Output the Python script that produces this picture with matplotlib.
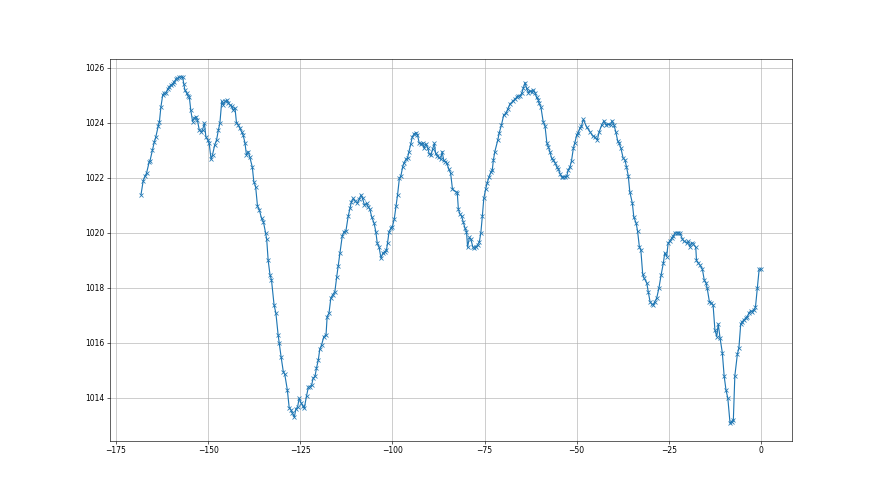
#!/usr/bin/env python3
"""Pressure series over the last week (hours relative to now)."""

import matplotlib

matplotlib.use("Agg")
import matplotlib.pyplot as plt

# hours relative to the last reading
hours = [
    -168.2, -167.6, -167.1, -166.7, -166.0, -165.8, -165.1, -164.6, -164.2, -163.5,
    -163.2, -162.8, -162.3, -161.9, -161.4, -161.0, -160.5, -160.1, -159.6, -159.2,
    -158.7, -158.3, -157.8, -157.4, -156.9, -156.6, -156.3, -155.8, -155.4, -155.1,
    -154.7, -154.2, -153.8, -153.3, -152.9, -152.4, -151.9, -151.5, -151.0, -150.6,
    -150.1, -149.7, -149.2, -148.8, -148.2, -147.7, -147.2, -146.8, -146.3, -145.9,
    -145.4, -145.0, -144.5, -144.1, -143.6, -143.2, -142.7, -142.3, -141.8, -141.4,
    -140.9, -140.5, -140.0, -139.6, -139.1, -138.7, -138.0, -137.6, -137.1,
    -136.6, -136.1, -135.5, -135.0, -134.4, -134.1, -133.7, -133.2, -132.8, -132.1,
    -131.6, -131.0, -130.7, -130.2, -129.6, -129.2, -128.5, -128.0, -127.5, -127.1,
    -126.6, -126.2, -125.7, -125.3, -124.8, -124.3, -123.9, -123.3, -122.8, -122.4,
    -121.9, -121.5, -121.0, -120.6, -120.1, -119.7,
    -119.2, -118.6, -118.0, -117.7, -117.2, -116.7, -116.2, -115.6, -115.1, -114.7,
    -114.2, -113.6, -113.1, -112.6, -112.0, -111.5, -111.1, -110.6, -110.2, -109.5,
    -109.0, -108.5, -108.1, -107.6, -107.0, -106.6, -106.1, -105.6, -105.0, -104.5,
    -104.1, -103.6, -103.1, -102.6, -102.0, -101.6,
    -101.3, -100.9, -100.4, -100.0, -99.5, -99.0, -98.6, -98.1, -97.7, -97.2,
    -96.9, -96.3, -95.9, -95.5, -95.0, -94.6, -94.1, -93.6, -93.2, -92.7,
    -92.3, -91.8, -91.4, -90.9, -90.4, -90.0, -89.5, -89.1, -88.6, -88.3,
    -87.8, -87.4, -86.9, -86.5, -86.1, -85.7, -85.2, -84.7, -84.2, -83.7,
    -82.8, -82.4, -82.1, -81.7, -81.2, -80.8, -80.3, -79.9, -79.6, -79.1,
    -78.7, -78.2, -77.8, -77.3, -76.9, -76.4, -76.0, -75.6, -75.2, -74.7,
    -74.3, -73.8, -73.3, -72.9, -72.6, -72.2,
    -71.4, -71.0, -70.4, -69.8, -69.2, -68.7, -68.1, -67.4,
    -66.8, -66.3, -65.9, -65.4, -64.9, -64.5, -64.0, -63.6, -63.1, -62.7,
    -62.2, -61.8, -61.3, -60.9, -60.4, -60.2, -59.7, -59.1, -58.6, -58.1,
    -57.7, -57.3, -56.8, -56.4, -55.9, -55.4, -55.0, -54.5, -54.1, -53.6,
    -53.2, -52.7, -52.3, -51.8, -51.4, -50.9, -50.5, -50.0, -49.6, -49.1,
    -48.7, -48.2, -47.3,
    -46.4, -45.7, -45.0, -44.4, -43.9, -43.2, -42.6, -42.1, -41.4, -40.8,
    -40.4, -39.9, -39.4, -38.9, -38.5, -38.0, -37.4, -36.9, -36.5, -36.0,
    -35.6, -34.9, -34.5, -33.9, -33.5, -33.0, -32.6, -32.1, -31.7, -31.0,
    -30.6, -30.1, -29.7, -29.2, -28.8, -28.3, -27.7, -27.1, -26.5, -26.1,
    -25.6, -25.2, -24.7, -24.2, -23.8, -23.3, -22.9, -22.4, -22.0, -21.3,
    -20.8, -20.2, -19.7, -19.3, -18.8, -18.4, -17.7, -17.5, -17.0, -16.6,
    -15.9, -15.4, -14.9, -14.6, -14.0, -13.6, -13.0, -12.5, -12.0, -11.6,
    -11.1, -10.5, -10.0, -9.5, -9.0, -8.4, -8.0, -7.5, -7.1, -6.4,
    -6.0, -5.5, -5.1, -4.6, -4.2, -3.7, -3.3, -2.8, -2.4, -1.9,
    -1.5, -1.0, -0.5, 0.0,
]

# pressure (hPa)
pressure = [
    1021.39, 1021.90, 1022.07, 1022.17, 1022.57, 1022.60, 1023.00, 1023.30, 1023.48, 1023.90,
    1024.05, 1024.58, 1025.02, 1025.08, 1025.10, 1025.22, 1025.32, 1025.38, 1025.42, 1025.50,
    1025.59, 1025.62, 1025.66, 1025.68, 1025.66, 1025.42, 1025.20, 1025.08, 1024.98, 1024.95,
    1024.47, 1024.05, 1024.17, 1024.23, 1024.10, 1023.75, 1023.68, 1023.75, 1023.99, 1023.50,
    1023.38, 1023.26, 1022.68, 1022.84, 1023.20, 1023.38, 1023.75, 1023.99, 1024.78, 1024.66,
    1024.78, 1024.82, 1024.73, 1024.66, 1024.60, 1024.47, 1024.54, 1024.01, 1023.93, 1023.81,
    1023.68, 1023.56, 1023.28, 1022.84, 1022.96, 1022.77, 1022.39, 1021.87, 1021.68,
    1020.98, 1020.84, 1020.53, 1020.41, 1020.00, 1019.77, 1019.00, 1018.47, 1018.29, 1017.38,
    1017.08, 1016.29, 1015.99, 1015.50, 1014.96, 1014.86, 1014.29, 1013.65, 1013.56, 1013.44,
    1013.30, 1013.59, 1013.68, 1013.99, 1013.83, 1013.71, 1013.62, 1014.07, 1014.39, 1014.41,
    1014.47, 1014.72, 1014.78, 1015.08, 1015.38, 1015.77,
    1015.93, 1016.23, 1016.29, 1016.96, 1017.08, 1017.63, 1017.75, 1017.87, 1018.41, 1018.80,
    1019.26, 1019.89, 1020.05, 1020.08, 1020.60, 1020.90, 1021.14, 1021.26, 1021.17, 1021.08,
    1021.23, 1021.38, 1021.26, 1021.02, 1021.08, 1020.96, 1020.86, 1020.57, 1020.37, 1020.05,
    1019.62, 1019.48, 1019.08, 1019.26, 1019.32, 1019.38,
    1019.65, 1020.05, 1020.17, 1020.23, 1020.50, 1020.98, 1021.38, 1021.99, 1022.07, 1022.41,
    1022.53, 1022.68, 1022.72, 1022.96, 1023.24, 1023.50, 1023.60, 1023.65, 1023.56, 1023.26,
    1023.24, 1023.28, 1023.08, 1023.24, 1023.08, 1022.87, 1022.84, 1023.04, 1023.26, 1022.90,
    1022.80, 1022.75, 1022.68, 1022.96, 1022.65, 1022.59, 1022.53, 1022.32, 1022.17, 1021.59,
    1021.50, 1021.47, 1020.86, 1020.69, 1020.60, 1020.41, 1020.17, 1020.05, 1019.48, 1019.84,
    1019.77, 1019.50, 1019.44, 1019.50, 1019.56, 1019.68, 1020.01, 1020.60, 1021.26, 1021.59,
    1021.81, 1022.03, 1022.20, 1022.29, 1022.65, 1022.96,
    1023.38, 1023.65, 1023.93, 1024.29, 1024.35, 1024.50, 1024.69, 1024.78,
    1024.86, 1024.93, 1024.98, 1024.98, 1025.08, 1025.26, 1025.47, 1025.26, 1025.10, 1025.17,
    1025.14, 1025.20, 1025.10, 1024.93, 1024.84, 1024.72, 1024.57, 1024.05, 1023.89, 1023.28,
    1023.14, 1022.96, 1022.72, 1022.65, 1022.56, 1022.41, 1022.32, 1022.15, 1022.03, 1022.03,
    1022.05, 1022.06, 1022.29, 1022.41, 1022.63, 1023.08, 1023.28, 1023.56, 1023.65, 1023.81,
    1023.89, 1024.13, 1023.85,
    1023.68, 1023.53, 1023.48, 1023.38, 1023.68, 1023.93, 1024.08, 1023.93, 1023.96, 1023.93,
    1024.08, 1023.93, 1023.68, 1023.36, 1023.26, 1023.08, 1022.72, 1022.65, 1022.41, 1022.07,
    1021.50, 1021.08, 1020.57, 1020.37, 1020.08, 1019.50, 1019.38, 1018.51, 1018.35, 1018.19,
    1017.87, 1017.50, 1017.42, 1017.38, 1017.50, 1017.63, 1017.99, 1018.47, 1018.90, 1019.28,
    1019.14, 1019.62, 1019.72, 1019.81, 1019.89, 1020.00, 1020.01, 1020.00, 1020.00, 1019.77,
    1019.69, 1019.65, 1019.69, 1019.50, 1019.65, 1019.60, 1019.48, 1019.00, 1018.90, 1018.84,
    1018.68, 1018.29, 1018.17, 1017.99, 1017.50, 1017.47, 1017.38, 1016.47, 1016.23, 1016.69,
    1016.17, 1015.65, 1014.80, 1014.29, 1013.99, 1013.08, 1013.14, 1013.20, 1014.80, 1015.60,
    1015.81, 1016.69, 1016.77, 1016.84, 1016.90, 1016.96, 1017.08, 1017.17, 1017.14, 1017.20,
    1017.30, 1017.99, 1018.68, 1018.68,
]


def main() -> None:
    fig, ax = plt.subplots(figsize=(16, 9), dpi=55)
    ax.plot(hours, pressure, marker="x")
    ax.grid(True)
    fig.savefig("out.png", dpi=55)
    plt.close(fig)


if __name__ == "__main__":
    main()
